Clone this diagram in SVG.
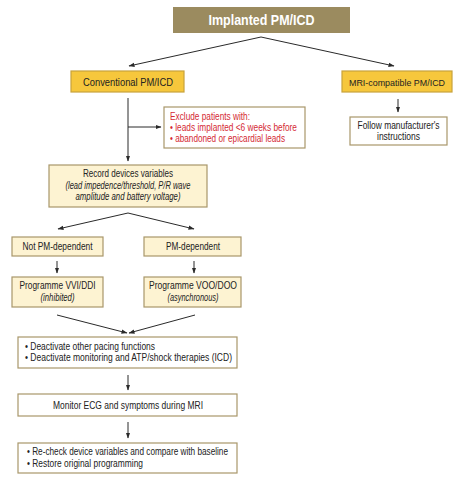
<svg xmlns="http://www.w3.org/2000/svg" width="465" height="480" viewBox="0 0 465 480">
<defs>
<marker id="ah" markerUnits="userSpaceOnUse" markerWidth="6" markerHeight="6" refX="5.5" refY="3" orient="auto">
<path d="M0,0.8 L6,3 L0,5.2 z" fill="#2a2a2a"/>
</marker>
<style>
.t{font-family:"Liberation Sans",Arial,sans-serif;font-size:11px;fill:#222}
.c{text-anchor:middle}
.i{font-style:italic}
.r{fill:#d42a34}
.cream{fill:#fdf3d2;stroke:#a8976a;stroke-width:1.2}
.white{fill:#ffffff;stroke:#a8976a;stroke-width:1.2}
.gold{fill:#f6c73c;stroke:#c9a23b;stroke-width:1.2}
.ln{stroke:#2a2a2a;stroke-width:1;fill:none}
.ar{marker-end:url(#ah)}
</style>
</defs>
<rect width="465" height="480" fill="#ffffff"/>

<g id="connectors">
<line class="ln ar" x1="261" y1="37" x2="129" y2="66"/>
<line class="ln ar" x1="261" y1="37" x2="394" y2="66"/>
<line class="ln ar" x1="398" y1="99" x2="398" y2="112"/>
<line class="ln ar" x1="128" y1="98" x2="128" y2="161"/>
<line class="ln ar" x1="128" y1="127" x2="161" y2="127"/>
<line class="ln ar" x1="128" y1="213" x2="58" y2="229"/>
<line class="ln ar" x1="128" y1="213" x2="194" y2="229"/>
<line class="ln ar" x1="57" y1="261" x2="57" y2="273"/>
<line class="ln ar" x1="194" y1="261" x2="194" y2="273"/>
<line class="ln ar" x1="57" y1="315" x2="127" y2="333"/>
<line class="ln ar" x1="195" y1="315" x2="129" y2="333"/>
<line class="ln ar" x1="128" y1="375" x2="128" y2="390"/>
<line class="ln ar" x1="128" y1="422" x2="128" y2="438"/>
</g>

<g id="implanted">
<rect x="173" y="7" width="177" height="26" fill="#9b8b5f"/>
<text class="t c" x="261.5" y="25" style="font-size:14.5px;font-weight:bold;fill:#ffffff" textLength="106" lengthAdjust="spacingAndGlyphs">Implanted PM/ICD</text>
</g>

<g id="conventional">
<rect class="gold" x="71" y="71" width="113" height="21"/>
<text class="t c" x="128" y="85.5" textLength="90" lengthAdjust="spacingAndGlyphs">Conventional PM/ICD</text>
</g>

<g id="mri">
<rect class="gold" x="342" y="71" width="110" height="21"/>
<text class="t c" x="397" y="86" style="font-size:9.8px" textLength="96" lengthAdjust="spacingAndGlyphs">MRI-compatible PM/ICD</text>
</g>

<g id="follow">
<rect class="white" x="350" y="117" width="97" height="28"/>
<text class="t c" x="398.5" y="128.5" textLength="82" lengthAdjust="spacingAndGlyphs">Follow manufacturer's</text>
<text class="t c" x="398.5" y="140" textLength="43" lengthAdjust="spacingAndGlyphs">instructions</text>
</g>

<g id="exclude">
<rect class="white" x="164" y="107" width="141" height="41"/>
<text class="t r" x="170" y="120" textLength="80" lengthAdjust="spacingAndGlyphs">Exclude patients with:</text>
<text class="t r" x="170" y="131" textLength="127" lengthAdjust="spacingAndGlyphs">• leads implanted &lt;6 weeks before</text>
<text class="t r" x="170" y="141.5" textLength="115" lengthAdjust="spacingAndGlyphs">• abandoned or epicardial leads</text>
</g>

<g id="record">
<rect class="cream" x="49" y="165" width="158" height="42"/>
<text class="t c" x="128" y="177" textLength="90" lengthAdjust="spacingAndGlyphs">Record devices variables</text>
<text class="t c i" x="128" y="188.5" textLength="125" lengthAdjust="spacingAndGlyphs">(lead impedence/threshold, P/R wave</text>
<text class="t c i" x="128" y="200" textLength="105" lengthAdjust="spacingAndGlyphs">amplitude and battery voltage)</text>
</g>

<g id="not-pm-dependent">
<rect class="cream" x="12" y="237" width="91" height="19"/>
<text class="t c" x="57.5" y="250" textLength="70" lengthAdjust="spacingAndGlyphs">Not PM-dependent</text>
</g>

<g id="pm-dependent">
<rect class="cream" x="144" y="237" width="97" height="19"/>
<text class="t c" x="193" y="250" textLength="54" lengthAdjust="spacingAndGlyphs">PM-dependent</text>
</g>

<g id="programme-vvi">
<rect class="cream" x="12" y="277" width="91" height="30"/>
<text class="t c" x="57.5" y="289" textLength="76" lengthAdjust="spacingAndGlyphs">Programme VVI/DDI</text>
<text class="t c i" x="57.5" y="300.5" textLength="34" lengthAdjust="spacingAndGlyphs">(inhibited)</text>
</g>

<g id="programme-voo">
<rect class="cream" x="144" y="277" width="97" height="30"/>
<text class="t c" x="193" y="289" textLength="88" lengthAdjust="spacingAndGlyphs">Programme VOO/DOO</text>
<text class="t c i" x="193" y="300.5" textLength="51" lengthAdjust="spacingAndGlyphs">(asynchronous)</text>
</g>

<g id="deactivate">
<rect class="white" x="18" y="337" width="219" height="31"/>
<text class="t" x="25" y="349.5" textLength="130" lengthAdjust="spacingAndGlyphs">• Deactivate other pacing functions</text>
<text class="t" x="25" y="361" textLength="207" lengthAdjust="spacingAndGlyphs">• Deactivate monitoring and ATP/shock therapies (ICD)</text>
</g>

<g id="monitor">
<rect class="white" x="18" y="394" width="219" height="22"/>
<text class="t c" x="128" y="408.5" textLength="150" lengthAdjust="spacingAndGlyphs">Monitor ECG and symptoms during MRI</text>
</g>

<g id="recheck">
<rect class="white" x="18" y="443" width="219" height="30"/>
<text class="t" x="27" y="455" textLength="201" lengthAdjust="spacingAndGlyphs">• Re-check device variables and compare with baseline</text>
<text class="t" x="27" y="466.5" textLength="116" lengthAdjust="spacingAndGlyphs">• Restore original programming</text>
</g>
</svg>
